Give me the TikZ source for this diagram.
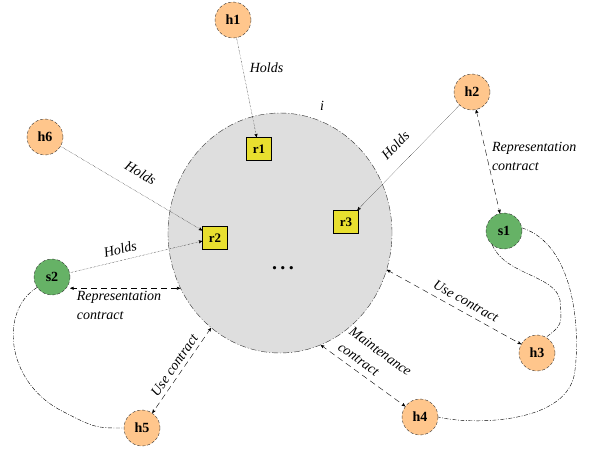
\documentclass[tikz,border=0pt]{standalone}
\usepackage{fontspec}
\setmainfont{Liberation Serif}
\usetikzlibrary{arrows,shapes.geometric}

\begin{document}
\begin{tikzpicture}[
                    x=1pt, y=-1pt,
                    >=stealth',
                    thin,
                    font=\fontsize{14}{19}\selectfont
                ]
                \tikzstyle{human}=[circle,minimum size=36pt,inner sep=0pt,fill=orange!45!white,draw=black!80,densely dashed,font=\fontsize{14}{16}\selectfont\bfseries]
                \tikzstyle{steward}=[circle,minimum size=36pt,inner sep=0pt,fill=green!50!black!60!white,draw=black!80,densely dashed,font=\fontsize{14}{16}\selectfont\bfseries]
                \tikzstyle{res}=[rectangle,minimum width=25pt,minimum height=23pt,inner sep=0pt,fill=yellow!75!olive!80!white,draw=black,font=\fontsize{13}{15}\selectfont\bfseries]
                \tikzstyle{holds}=[->,densely dotted]
                \tikzstyle{contract}=[<->,dash pattern=on 6pt off 4pt]
                \tikzstyle{link}=[dash pattern=on 4pt off 1.5pt on 1pt off 1.5pt]
                \tikzstyle{lbl}=[font=\fontsize{14}{19}\selectfont\itshape,inner sep=1pt]

                \useasboundingbox (0,0) rectangle (593,451);

                % the institution
                \node[ellipse,minimum width=224pt,minimum height=240pt,fill=black!13,draw=black!80,dash pattern=on 6pt off 2pt on 1pt off 2pt] (i) at (280,233) {};
                \node[lbl] (ilabel) at (322,106) {i};

                \node[res] (r1) at (259,149) {r1};
                \node[res] (r2) at (215,238) {r2};
                \node[res] (r3) at (346,222) {r3};
                \node[font=\fontsize{20}{20}\selectfont\bfseries] (dots) at (283,268) {.\,.\,.};

                \node[human] (h1) at (233,20) {h1};
                \node[human] (h2) at (472,92) {h2};
                \node[human] (h3) at (537,353) {h3};
                \node[human] (h4) at (420,417) {h4};
                \node[human] (h5) at (142,428) {h5};
                \node[human] (h6) at (45,137) {h6};
                \node[steward] (s1) at (504,231) {s1};
                \node[steward] (s2) at (52,277) {s2};

                \path
                (h1) edge[holds] node[lbl,pos=0.3,right,xshift=6pt] {Holds} (r1)
                (h6) edge[holds] node[lbl,pos=0.5,above=12pt,sloped] {Holds} (r2)
                (h2) edge[holds] node[lbl,pos=0.5,above=12pt,sloped] {Holds} (r3)
                (s2) edge[holds] node[lbl,pos=0.4,above=5pt,sloped] {Holds} (r2)
                ;

                \draw[contract] (h2) -- node[lbl,pos=0.45,right,align=left,xshift=4pt] {Representation\\contract} (s1);
                \draw[contract] (s2.east |- i.209) -- node[lbl,pos=0.05,below right,align=left,yshift=-2pt] {Representation\\contract} (i.209);
                \draw[contract] (i.341) -- node[lbl,pos=0.55,above=5pt,sloped] {Use contract} (h3);
                \draw[contract] (i.290) -- node[lbl,pos=0.5,above=5pt,sloped,align=left] {Maintenance\\contract} (h4);
                \draw[contract] (i.234) -- node[lbl,pos=0.5,above=3pt,sloped] {Use contract} (h5);

                \draw[link] (s1.230) .. controls (505,275) and (555,275) .. (560,300) .. controls (562,325) .. (h3.60);
                \draw[link] (s1.10) .. controls (575,245) and (580,330) .. (575,370) .. controls (570,425) and (470,425) .. (h4.east);
                \draw[link] (s2.215) .. controls (0,310) and (5,380) .. (60,410) .. controls (95,428) .. (h5.west);

            \end{tikzpicture}
\end{document}
